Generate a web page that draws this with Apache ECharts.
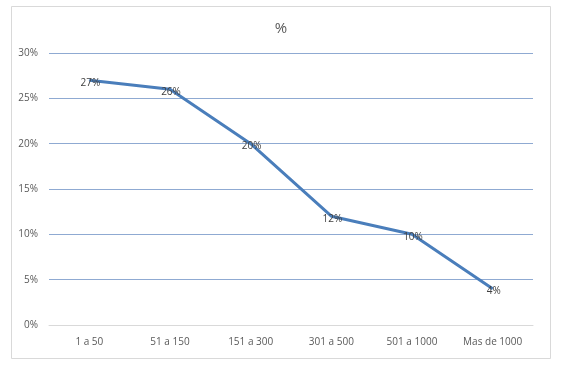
<!DOCTYPE html>
<html>
<head>
<meta charset="utf-8">
<script src="https://cdn.jsdelivr.net/npm/echarts@6/dist/echarts.min.js"></script>
<style>html,body{margin:0;padding:0;background:#fff}#c{width:562px;height:365px}</style>
</head>
<body>
<div id="c"></div>
<script>
const categories = ['1 a 50', '51 a 150', '151 a 300', '301 a 500', '501 a 1000', 'Mas de 1000'];
const values = [27, 26, 20, 12, 10, 4];
const yTicks = [0, 5, 10, 15, 20, 25, 30];
const titleText = '%';

const chart = echarts.init(document.getElementById('c'), null, {renderer: 'canvas'});
const font = '"Open Sans", "Noto Sans", sans-serif';
chart.setOption({
  animation: false,
  backgroundColor: '#fff',
  graphic: [{
    type: 'rect', left: 9, top: 4, shape: {width: 539, height: 352},
    style: {fill: 'none', stroke: '#d9d9d9', lineWidth: 1}, silent: true
  }],
  title: {
    text: titleText, left: 'center', top: 16,
    textStyle: {fontFamily: font, fontSize: 15, fontWeight: 'normal', color: '#595959'}
  },
  grid: {left: 49, right: 29, top: 53, bottom: 40},
  xAxis: {
    type: 'category', data: categories, boundaryGap: true,
    axisLine: {show: true, lineStyle: {color: '#d9d9d9'}},
    axisTick: {show: false},
    axisLabel: {fontFamily: font, fontSize: 10, color: '#595959', margin: 12}
  },
  yAxis: {
    type: 'value', min: yTicks[0], max: yTicks[yTicks.length - 1], interval: 5,
    axisLine: {show: false}, axisTick: {show: false},
    axisLabel: {fontFamily: font, fontSize: 10, color: '#595959', margin: 11, formatter: v => v + '%'},
    splitLine: {lineStyle: {color: '#8faad2', width: 1}}
  },
  series: [{
    type: 'line', data: values, symbol: 'circle', symbolSize: 1, showSymbol: true,
    itemStyle: {color: '#4a7ebb'},
    lineStyle: {color: '#4a7ebb', width: 3},
    label: {show: true, position: 'top', distance: 0, offset: [1, 8], fontFamily: font, fontSize: 10, color: '#404040', formatter: p => p.value + '%'}
  }]
});
</script>
</body>
</html>
